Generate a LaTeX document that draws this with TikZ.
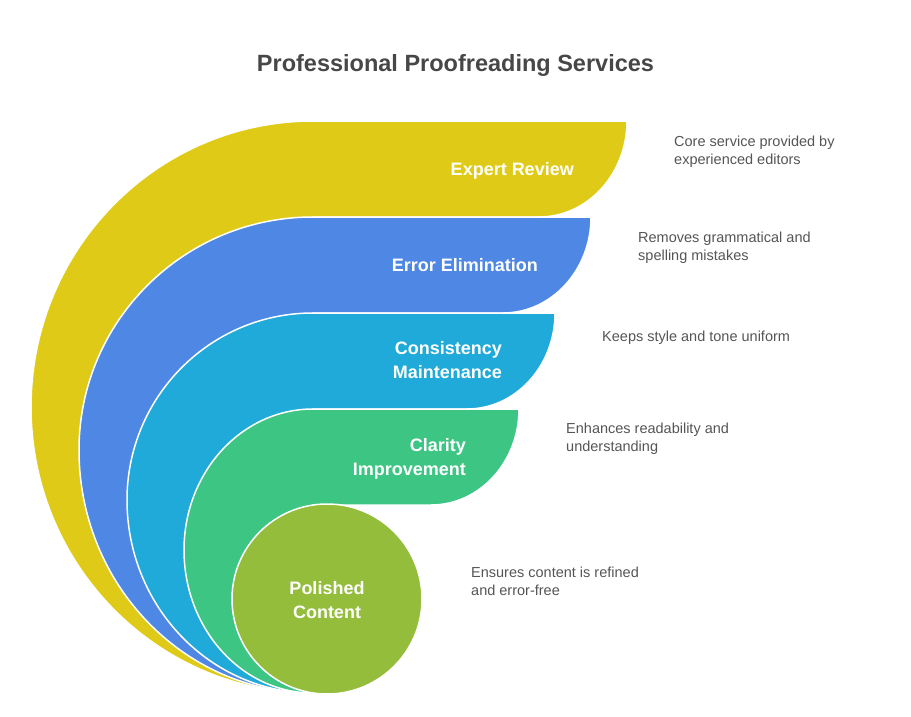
\documentclass[tikz,border=0pt]{standalone}
\usepackage{fontspec}
\setmainfont{Liberation Sans}
\definecolor{cyellow}{HTML}{DFCB17}
\definecolor{cblue}{HTML}{4E88E4}
\definecolor{ccyan}{HTML}{1FAAD9}
\definecolor{cgreen}{HTML}{3DC584}
\definecolor{colive}{HTML}{93BD3A}
\definecolor{ctitle}{HTML}{474747}
\definecolor{cdesc}{HTML}{555555}
\newcommand{\mybandshape}[6]{%
 \path[fill=#1, draw=white, line width=1.5pt] (313,#2) -- (#3,#2)
  .. controls (#3,{#2+0.5523*(#4-#2)}) and ({#3-88+0.5523*88},#4) .. ({#3-88},#4)
  -- (313,#4) -- (313,693)
  .. controls ({313-0.5523*(313-#5)},693) and (#5,{#6+0.5523*(693-#6)}) .. (#5,#6)
  .. controls (#5,{#6-0.5523*(#6-#2)}) and ({313-0.5523*(313-#5)},#2) .. (313,#2) -- cycle;}
\tikzset{
  lbl/.style={text=white, font=\fontsize{18}{23.5}\selectfont\bfseries, align=right, inner sep=0pt},
  desc/.style={text=cdesc, font=\fontsize{14.5}{17.5}\selectfont, align=left, inner sep=0pt, anchor=base west},
}
\begin{document}
\begin{tikzpicture}[x=1pt,y=-1pt]
\useasboundingbox (0,0) rectangle (911,717);
\node[text=ctitle, font=\fontsize{23.5}{28}\selectfont\bfseries, anchor=base, inner sep=0pt] (title) at (455.5,72) {Professional Proofreading Services};
\mybandshape{cyellow}{121}{627}{217}{31}{407}
\mybandshape{cblue}{217}{591}{313}{79}{450}
\mybandshape{ccyan}{313}{555}{409}{127}{500}
\mybandshape{cgreen}{409}{519}{505}{184}{550}
\node[circle, minimum size=190pt, inner sep=0pt, fill=colive, draw=white, line width=1.5pt] (polished) at (327,599) {};
\node[lbl, anchor=base east] (l1) at (574,175) {Expert Review};
\node[lbl, anchor=base east] (l2) at (538,271) {Error Elimination};
\node[lbl, anchor=base east] (l3) at (502,378) {Consistency\\Maintenance};
\node[lbl, anchor=base east] (l4) at (466,475) {Clarity\\Improvement};
\node[lbl, align=center, anchor=base] (l5) at (327,618) {Polished\\Content};
\node[desc] (d1) at (674,164) {Core service provided by\\experienced editors};
\node[desc] (d2) at (638,260) {Removes grammatical and\\spelling mistakes};
\node[desc] (d3) at (602,341) {Keeps style and tone uniform};
\node[desc] (d4) at (566,451) {Enhances readability and\\understanding};
\node[desc] (d5) at (471,595) {Ensures content is refined\\and error-free};
\end{tikzpicture}
\end{document}
